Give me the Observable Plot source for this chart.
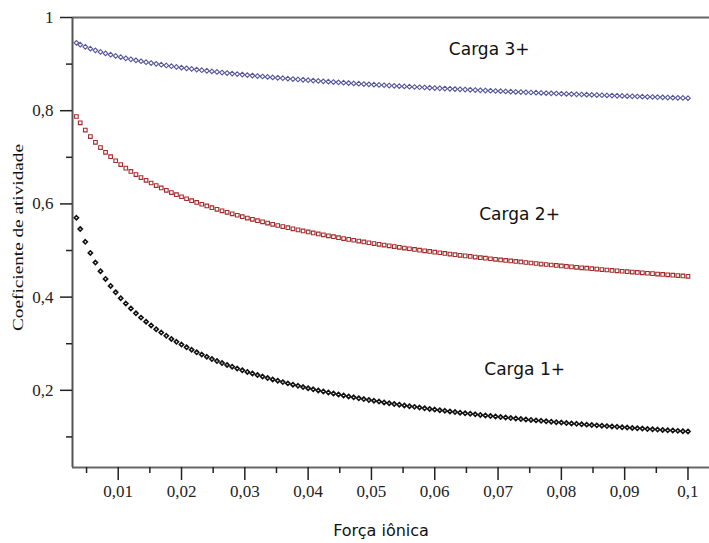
<!DOCTYPE html>
<html><head><meta charset="utf-8">
<script src="https://cdn.jsdelivr.net/npm/d3@7"></script>
<script src="https://cdn.jsdelivr.net/npm/@observablehq/plot@0.6"></script>
<style>body{margin:0;background:#fff;} svg{display:block;}</style>
</head><body><div id="chart"></div>
<script>
// Força iônica (x)
const forcaIonica = [0.0034, 0.004, 0.0048, 0.0056, 0.0064, 0.0072, 0.008, 0.0088, 0.0096, 0.0104,
0.0112, 0.012, 0.0128, 0.0136, 0.0144, 0.0152, 0.016, 0.0168, 0.0176, 0.0184,
0.0192, 0.02, 0.0208, 0.0216, 0.0224, 0.0232, 0.024, 0.0248, 0.0256, 0.0264,
0.0272, 0.028, 0.0288, 0.0296, 0.0304, 0.0312, 0.032, 0.0328, 0.0336, 0.0344,
0.0352, 0.036, 0.0368, 0.0376, 0.0384, 0.0392, 0.04, 0.0408, 0.0416, 0.0424,
0.0432, 0.044, 0.0448, 0.0456, 0.0464, 0.0472, 0.048, 0.0488, 0.0496, 0.0504,
0.0512, 0.052, 0.0528, 0.0536, 0.0544, 0.0552, 0.056, 0.0568, 0.0576, 0.0584,
0.0592, 0.06, 0.0608, 0.0616, 0.0624, 0.0632, 0.064, 0.0648, 0.0656, 0.0664,
0.0672, 0.068, 0.0688, 0.0696, 0.0704, 0.0712, 0.072, 0.0728, 0.0736, 0.0744,
0.0752, 0.076, 0.0768, 0.0776, 0.0784, 0.0792, 0.08, 0.0808, 0.0816, 0.0824,
0.0832, 0.084, 0.0848, 0.0856, 0.0864, 0.0872, 0.088, 0.0888, 0.0896, 0.0904,
0.0912, 0.092, 0.0928, 0.0936, 0.0944, 0.0952, 0.096, 0.0968, 0.0976, 0.0984,
0.0992, 0.1];

// Coeficiente de atividade — Carga 3+ (azul, losangos)
const carga3 = [0.9456, 0.9417, 0.9372, 0.9332, 0.9295, 0.9261, 0.9230, 0.9202, 0.9175, 0.9149,
0.9125, 0.9103, 0.9081, 0.9061, 0.9041, 0.9023, 0.9005, 0.8987, 0.8971, 0.8955,
0.8939, 0.8924, 0.8910, 0.8896, 0.8882, 0.8869, 0.8856, 0.8843, 0.8831, 0.8819,
0.8808, 0.8796, 0.8785, 0.8775, 0.8764, 0.8754, 0.8744, 0.8734, 0.8725, 0.8715,
0.8706, 0.8697, 0.8688, 0.8679, 0.8671, 0.8663, 0.8654, 0.8646, 0.8638, 0.8630,
0.8623, 0.8615, 0.8608, 0.8601, 0.8593, 0.8586, 0.8579, 0.8572, 0.8566, 0.8559,
0.8553, 0.8546, 0.8540, 0.8533, 0.8527, 0.8521, 0.8515, 0.8509, 0.8503, 0.8498,
0.8492, 0.8486, 0.8481, 0.8475, 0.8470, 0.8464, 0.8459, 0.8454, 0.8449, 0.8443,
0.8438, 0.8433, 0.8428, 0.8423, 0.8419, 0.8414, 0.8409, 0.8404, 0.8400, 0.8395,
0.8391, 0.8386, 0.8382, 0.8377, 0.8373, 0.8369, 0.8364, 0.8360, 0.8356, 0.8352,
0.8348, 0.8344, 0.8340, 0.8336, 0.8332, 0.8328, 0.8324, 0.8320, 0.8316, 0.8312,
0.8309, 0.8305, 0.8301, 0.8297, 0.8294, 0.8290, 0.8287, 0.8283, 0.8280, 0.8276,
0.8273, 0.8269];

// Carga 2+ (vermelho, quadrados)
const carga2 = [0.7876, 0.7741, 0.7584, 0.7445, 0.7321, 0.7209, 0.7107, 0.7013, 0.6926, 0.6844,
0.6768, 0.6697, 0.6630, 0.6566, 0.6506, 0.6449, 0.6394, 0.6342, 0.6292, 0.6244,
0.6198, 0.6154, 0.6111, 0.6070, 0.6031, 0.5993, 0.5956, 0.5920, 0.5885, 0.5852,
0.5819, 0.5787, 0.5757, 0.5727, 0.5697, 0.5669, 0.5641, 0.5615, 0.5588, 0.5563,
0.5537, 0.5513, 0.5489, 0.5466, 0.5443, 0.5421, 0.5399, 0.5377, 0.5356, 0.5336,
0.5315, 0.5296, 0.5276, 0.5257, 0.5239, 0.5220, 0.5202, 0.5185, 0.5167, 0.5150,
0.5133, 0.5117, 0.5101, 0.5085, 0.5069, 0.5053, 0.5038, 0.5023, 0.5008, 0.4994,
0.4980, 0.4965, 0.4952, 0.4938, 0.4924, 0.4911, 0.4898, 0.4885, 0.4873, 0.4860,
0.4847, 0.4835, 0.4823, 0.4811, 0.4799, 0.4788, 0.4776, 0.4765, 0.4754, 0.4743,
0.4732, 0.4721, 0.4710, 0.4700, 0.4689, 0.4679, 0.4669, 0.4659, 0.4649, 0.4639,
0.4629, 0.4620, 0.4610, 0.4601, 0.4592, 0.4582, 0.4573, 0.4564, 0.4555, 0.4546,
0.4538, 0.4529, 0.4521, 0.4512, 0.4504, 0.4495, 0.4487, 0.4479, 0.4471, 0.4463,
0.4455, 0.4447];

// Carga 1+ (preto, losangos)
const carga1 = [0.5702, 0.5461, 0.5186, 0.4949, 0.4741, 0.4557, 0.4391, 0.4241, 0.4104, 0.3978,
0.3862, 0.3755, 0.3654, 0.3560, 0.3473, 0.3390, 0.3313, 0.3239, 0.3169, 0.3103,
0.3040, 0.2981, 0.2924, 0.2869, 0.2817, 0.2767, 0.2719, 0.2673, 0.2629, 0.2586,
0.2545, 0.2505, 0.2467, 0.2431, 0.2395, 0.2361, 0.2328, 0.2295, 0.2264, 0.2234,
0.2205, 0.2176, 0.2149, 0.2122, 0.2096, 0.2070, 0.2046, 0.2021, 0.1998, 0.1975,
0.1953, 0.1931, 0.1910, 0.1890, 0.1869, 0.1850, 0.1830, 0.1812, 0.1793, 0.1775,
0.1758, 0.1741, 0.1724, 0.1707, 0.1691, 0.1676, 0.1660, 0.1645, 0.1630, 0.1616,
0.1601, 0.1587, 0.1574, 0.1560, 0.1547, 0.1534, 0.1521, 0.1509, 0.1497, 0.1485,
0.1473, 0.1461, 0.1450, 0.1438, 0.1427, 0.1416, 0.1406, 0.1395, 0.1385, 0.1375,
0.1365, 0.1355, 0.1345, 0.1336, 0.1326, 0.1317, 0.1308, 0.1299, 0.1290, 0.1281,
0.1273, 0.1264, 0.1256, 0.1248, 0.1239, 0.1232, 0.1224, 0.1216, 0.1208, 0.1201,
0.1193, 0.1186, 0.1179, 0.1171, 0.1164, 0.1157, 0.1150, 0.1144, 0.1137, 0.1130,
0.1124, 0.1117];

// Axis ticks and labels
const xTicks = [0.01, 0.02, 0.03, 0.04, 0.05, 0.06, 0.07, 0.08, 0.09, 0.1];
const xTickLabels = ["0,01", "0,02", "0,03", "0,04", "0,05", "0,06", "0,07", "0,08", "0,09", "0,1"];
const xMinorTicks = [0.005, 0.015, 0.025, 0.035, 0.045, 0.055, 0.065, 0.075, 0.085, 0.095];
const yTicks = [0.2, 0.4, 0.6, 0.8, 1];
const yTickLabels = ["0,2", "0,4", "0,6", "0,8", "1"];
const yMinorTicks = [0.1, 0.3, 0.5, 0.7, 0.9];

// Series annotations (in data coordinates)
const seriesNames = ["Carga 3+", "Carga 2+", "Carga 1+"];
const seriesLabelX = [0.0686, 0.0734, 0.0742];
const seriesLabelY = [0.931, 0.577, 0.245];

const xTitle = "Força iônica";
const yTitle = "Coeficiente de atividade";

const xDomain = [0.00278, 0.1034];
const yDomain = [0.0344, 1];

const rows = forcaIonica.map((x, i) => ({x, c3: carga3[i], c2: carga2[i], c1: carga1[i]}));
const labels = seriesNames.map((t, i) => ({t, x: seriesLabelX[i], y: seriesLabelY[i]}));
const xFmt = new Map(xTicks.map((t, i) => [t, xTickLabels[i]]));
const yFmt = new Map(yTicks.map((t, i) => [t, yTickLabels[i]]));

const serif = "'Liberation Serif', 'Times New Roman', serif";
const sans = "'DejaVu Sans', sans-serif";

const chart = Plot.plot({
  width: 709,
  height: 543,
  marginTop: 17,
  marginBottom: 76,
  marginLeft: 72,
  marginRight: 0,
  style: {background: "white"},
  x: {domain: xDomain},
  y: {domain: yDomain},
  marks: [
    Plot.ruleY([yDomain[1]], {stroke: "#666", strokeWidth: 2}),
    Plot.ruleY([yDomain[0]], {stroke: "#666", strokeWidth: 2}),
    Plot.ruleX([xDomain[0]], {stroke: "#555", strokeWidth: 2}),
    Plot.axisX({ticks: xTicks, tickSize: 13, tickPadding: 4, tickFormat: d => xFmt.get(d), label: null,
      fontSize: 17, fontFamily: serif, stroke: "#222", strokeWidth: 1.5, fill: "#222"}),
    Plot.axisX({ticks: xMinorTicks, tickSize: 6, tickFormat: () => "", label: null, stroke: "#222", strokeWidth: 1.5}),
    Plot.axisY({ticks: yTicks, tickSize: 12, tickPadding: 7, tickFormat: d => yFmt.get(d), label: null,
      fontSize: 17, fontFamily: serif, stroke: "#222", strokeWidth: 1.5, fill: "#222"}),
    Plot.axisY({ticks: yMinorTicks, tickSize: 6, tickFormat: () => "", label: null, stroke: "#222", strokeWidth: 1.5}),
    Plot.dot(rows, {x: "x", y: "c3", symbol: "diamond2", r: 2.1, stroke: "#55559a", strokeWidth: 1.1, fill: "none"}),
    Plot.dot(rows, {x: "x", y: "c2", symbol: "square2", r: 2.3, stroke: "#a52a2a", strokeWidth: 1.1, fill: "none"}),
    Plot.dot(rows, {x: "x", y: "c1", symbol: "diamond2", r: 1.9, stroke: "#111", strokeWidth: 1.6, fill: "none"}),
    Plot.text(labels, {x: "x", y: "y", text: "t", fontSize: 17, fontFamily: sans, fill: "#111"}),
    Plot.text([xTitle], {frameAnchor: "bottom", textAnchor: "middle", lineAnchor: "middle", dx: -10, dy: 63,
      fontSize: 16, fontFamily: sans, fill: "#111"}),
    Plot.text([yTitle], {frameAnchor: "left", textAnchor: "middle", lineAnchor: "middle", rotate: -90, dx: -54, dy: -5,
      fontSize: 14, fontFamily: serif, fill: "#111", className: "ytitle"})
  ]
});
// stretch the vertical title along its baseline to the reference length
chart.querySelectorAll("text").forEach(t => {
  if (t.textContent === yTitle) {
    t.setAttribute("textLength", 187);
    t.setAttribute("lengthAdjust", "spacingAndGlyphs");
  }
});
document.getElementById("chart").append(chart);
</script>
</body></html>
